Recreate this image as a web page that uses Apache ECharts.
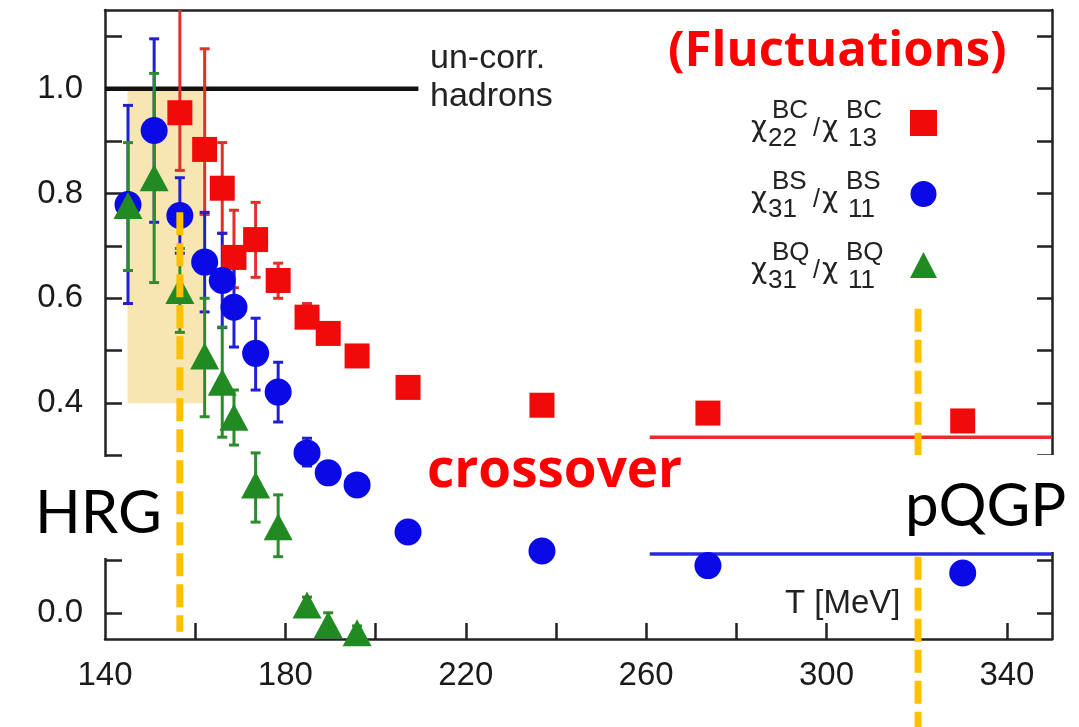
<!DOCTYPE html>
<html>
<head>
<meta charset="utf-8">
<title>Fluctuations ratios</title>
<script src="https://cdn.jsdelivr.net/npm/echarts@6/dist/echarts.min.js"></script>
<style>
  html, body { margin: 0; padding: 0; background: #fff; }
  #myChart { width: 1079px; height: 727px; }
</style>
</head>
<body>
<div id="myChart"></div>
<script>
// chi22/chi13 (BC)
var tempBC = [156.6, 162.1, 166.0, 168.6, 173.4, 178.4, 184.8, 189.5, 195.9, 207.2, 236.9, 273.7, 330.2];
var ratioBC = [0.954, 0.884, 0.81, 0.678, 0.712, 0.634, 0.564, 0.533, 0.49, 0.43, 0.396, 0.381, 0.366];
var lowBC = [0.844, 0.76, 0.724, 0.62, 0.64, 0.60, 0.545, 0.52, 0.48, 0.42, 0.39, 0.375, 0.36];
var highBC = [1.30, 1.076, 0.897, 0.768, 0.783, 0.667, 0.59, 0.55, 0.50, 0.44, 0.40, 0.387, 0.372];

// chi31/chi11 (BS)
var tempBS = [145.1, 150.9, 156.6, 162.1, 166.0, 168.6, 173.4, 178.4, 184.8, 189.5, 195.9, 207.2, 236.9, 273.7, 330.2];
var ratioBS = [0.779, 0.92, 0.758, 0.669, 0.634, 0.583, 0.495, 0.421, 0.305, 0.267, 0.244, 0.154, 0.118, 0.09, 0.076];
var lowBS = [0.59, 0.745, 0.686, 0.574, 0.544, 0.507, 0.425, 0.364, 0.28, 0.255, 0.235, 0.145, 0.11, 0.085, 0.07];
var highBS = [0.968, 1.095, 0.83, 0.764, 0.724, 0.658, 0.562, 0.478, 0.333, 0.28, 0.255, 0.162, 0.125, 0.095, 0.082];

// chi31/chi11 (BQ)
var tempBQ = [145.1, 150.9, 156.6, 162.1, 166.0, 168.6, 173.4, 178.4, 184.8, 189.5, 195.9];
var ratioBQ = [0.777, 0.83, 0.615, 0.49, 0.44, 0.373, 0.244, 0.164, 0.015, -0.023, -0.038];
var lowBQ = [0.653, 0.63, 0.535, 0.374, 0.335, 0.32, 0.173, 0.107, 0.0, -0.04, -0.05];
var highBQ = [0.897, 1.029, 0.695, 0.60, 0.545, 0.425, 0.305, 0.225, 0.03, 0.0, -0.025];

// reference lines
var uncorrX = [140, 209.5];
var uncorrY = [1.0, 1.0];
var pqgpLineX = [260.8, 350];
var pqgpBCY = [0.335, 0.335];
var pqgpBSY = [0.112, 0.112];
var hrgX = [156.6, 156.6];
var hrgY = [0.764, -0.036];
var pqgpX = [320.3, 320.3];
var pqgpY = [0.58, -0.22];
var hrgBandX = [145, 161.7];
var hrgBandY = [0.4, 1.0];

// axes
var xMin = 140, xMax = 350;
var yMin = -0.05, yMax = 1.15;
var xTickValues = [160, 180, 200, 220, 240, 260, 280, 300, 320, 340];
var xLabelValues = [140, 180, 220, 260, 300, 340];
var yTickValues = [0, 0.1, 0.2, 0.3, 0.4, 0.5, 0.6, 0.7, 0.8, 0.9, 1.0, 1.1];
var yLabelValues = [0, 0.2, 0.4, 0.6, 0.8, 1.0];

var RED = '#f00a0a', BLUE = '#0a0ae6', GREEN = '#228a22', ORANGE = '#ffc000';

function zip(xs, ys) {
    return xs.map(function (x, i) { return [x, ys[i]]; });
}

function errData(xs, lo, hi) {
    return xs.map(function (x, i) { return [x, lo[i], hi[i]]; });
}

function errRender(color) {
    return function (params, api) {
        var x = api.value(0);
        var p1 = api.coord([x, api.value(1)]);
        var p2 = api.coord([x, api.value(2)]);
        var cap = 5;
        var style = {stroke: color, lineWidth: 3};
        return {
            type: 'group',
            children: [
                {type: 'line', shape: {x1: p1[0], y1: p1[1], x2: p2[0], y2: p2[1]}, style: style},
                {type: 'line', shape: {x1: p1[0] - cap, y1: p1[1], x2: p1[0] + cap, y2: p1[1]}, style: style},
                {type: 'line', shape: {x1: p2[0] - cap, y1: p2[1], x2: p2[0] + cap, y2: p2[1]}, style: style}
            ]
        };
    };
}

function errSeries(xs, lo, hi, color) {
    return {
        type: 'custom',
        renderItem: errRender(color),
        data: errData(xs, lo, hi),
        encode: {x: 0, y: [1, 2]},
        clip: true,
        silent: true,
        z: 3
    };
}

function lineSeries(xs, ys, color, width, dash, clip) {
    return {
        type: 'line',
        data: zip(xs, ys),
        symbol: 'none',
        clip: clip,
        lineStyle: {color: color, width: width, type: dash || 'solid'},
        silent: true
    };
}

// legend label: superscripts on the first line, chi with subscripts on the second
var legendFont = 'Liberation Sans';
var rich = {
    p1: {width: 21, align: 'left', height: 12, lineHeight: 12},
    sup: {fontSize: 26, width: 37, align: 'left', height: 12, lineHeight: 12, color: '#222', fontFamily: legendFont},
    p2: {width: 37, align: 'left', height: 12, lineHeight: 12},
    e: {width: 22, align: 'left', height: 12, lineHeight: 12},
    chi: {fontSize: 28, width: 17, align: 'left', height: 24, lineHeight: 24, color: '#222', fontFamily: 'DejaVu Sans'},
    chi2: {fontSize: 28, width: 26, align: 'left', height: 24, lineHeight: 24, color: '#222', fontFamily: 'DejaVu Sans'},
    sub: {fontSize: 26, width: 45, align: 'left', verticalAlign: 'bottom', height: 4, lineHeight: 4, color: '#222', fontFamily: legendFont},
    sub2: {fontSize: 26, width: 34, align: 'left', verticalAlign: 'bottom', height: 4, lineHeight: 4, color: '#222', fontFamily: legendFont},
    sl: {fontSize: 25, width: 9, align: 'left', height: 24, lineHeight: 24, color: '#222', fontFamily: legendFont}
};

var legendLabels = {
    'BC': ['BC', 'BC', '22', '13'],
    'BS': ['BS', 'BS', '31', '11'],
    'BQ': ['BQ', 'BQ', '31', '11']
};

function legendFormatter(name) {
    var l = legendLabels[name];
    return '{p1| }{sup|' + l[0] + '}{p2| }{sup|' + l[1] + '}{e| }\n' +
        '{chi|χ}{sub|' + l[2] + '}{sl|/}{chi2|χ}{sub2|' + l[3] + '}';
}

var axisColor = '#222';
var labelFont = {fontSize: 33, color: '#1a1a1a', fontFamily: 'Liberation Sans'};

var option = {
    animation: false,
    backgroundColor: '#fff',
    grid: {left: 105, right: 27, top: 10, bottom: 88},
    legend: {
        data: [
            {name: 'BC', icon: 'rect'},
            {name: 'BS', icon: 'circle'},
            {name: 'BQ', icon: 'triangle'}
        ],
        orient: 'vertical',
        align: 'right',
        right: 142,
        top: 98,
        padding: 0,
        itemWidth: 27,
        itemHeight: 26,
        itemGap: 17,
        formatter: legendFormatter,
        textStyle: {rich: rich}
    },
    xAxis: [{
        type: 'value',
        min: xMin,
        max: xMax,
        axisLine: {onZero: false, lineStyle: {color: axisColor, width: 2.5}},
        axisTick: {inside: true, length: 16, customValues: xTickValues, lineStyle: {color: axisColor, width: 2.5}},
        axisLabel: Object.assign({customValues: xLabelValues, margin: 20}, labelFont),
        splitLine: {show: false}
    }, {
        type: 'value',
        position: 'top',
        min: xMin,
        max: xMax,
        axisLine: {onZero: false, lineStyle: {color: axisColor, width: 2.5}},
        axisTick: {show: false},
        axisLabel: {show: false},
        splitLine: {show: false}
    }],
    yAxis: [{
        type: 'value',
        min: yMin,
        max: yMax,
        axisLine: {show: true, onZero: false, lineStyle: {color: axisColor, width: 2.5}},
        axisTick: {show: true, inside: true, length: 17, customValues: yTickValues, lineStyle: {color: axisColor, width: 2.5}},
        axisLabel: Object.assign({
            customValues: yLabelValues,
            margin: 22,
            formatter: function (v) { return v.toFixed(1); }
        }, labelFont),
        splitLine: {show: false}
    }, {
        type: 'value',
        position: 'right',
        min: yMin,
        max: yMax,
        axisLine: {show: true, onZero: false, lineStyle: {color: axisColor, width: 2.5}},
        axisTick: {show: true, inside: true, length: 15, customValues: yTickValues, lineStyle: {color: axisColor, width: 2.5}},
        axisLabel: {show: false},
        splitLine: {show: false}
    }],
    series: [
        Object.assign(lineSeries(uncorrX, uncorrY, '#111', 4.5, 'solid', true), {
            z: 1,
            markArea: {
                silent: true,
                itemStyle: {color: 'rgba(240, 205, 100, 0.5)'},
                data: [[{coord: [hrgBandX[0], hrgBandY[1]]}, {coord: [hrgBandX[1], hrgBandY[0]]}]]
            }
        }),
        lineSeries(pqgpLineX, pqgpBCY, '#ec2a2a', 3.5, 'solid', true),
        lineSeries(pqgpLineX, pqgpBSY, '#2a2ae0', 3.5, 'solid', true),
        errSeries(tempBC, lowBC, highBC, '#e0302c'),
        errSeries(tempBS, lowBS, highBS, '#2020d0'),
        errSeries(tempBQ, lowBQ, highBQ, '#2e8a2e'),
        {
            name: 'BC', type: 'scatter', data: zip(tempBC, ratioBC),
            symbol: 'rect', symbolSize: 25, itemStyle: {color: RED, opacity: 1}, z: 4
        },
        {
            name: 'BS', type: 'scatter', data: zip(tempBS, ratioBS),
            symbol: 'circle', symbolSize: 27, itemStyle: {color: BLUE, opacity: 1}, z: 4
        },
        {
            name: 'BQ', type: 'scatter', data: zip(tempBQ, ratioBQ),
            symbol: 'triangle', symbolSize: [29, 27], itemStyle: {color: GREEN, opacity: 1}, z: 5
        },
        Object.assign(lineSeries(hrgX, hrgY, ORANGE, 7, [23, 8], false), {z: 6}),
        Object.assign(lineSeries(pqgpX, pqgpY, ORANGE, 7, [23, 8], false), {z: 6})
    ],
    graphic: [
        {type: 'rect', z: 100, shape: {x: 0, y: 457, width: 172, height: 101}, style: {fill: '#fff'}},
        {type: 'rect', z: 100, shape: {x: 883, y: 455, width: 196, height: 97}, style: {fill: '#fff'}},
        {type: 'text', z: 101, style: {x: 35, y: 514, text: 'HRG', fill: '#000', font: '60px Lato', verticalAlign: 'middle'}},
        {type: 'text', z: 101, style: {x: 905, y: 507, text: 'pQGP', fill: '#000', font: '60px Lato', verticalAlign: 'middle'}},
        {type: 'text', z: 101, style: {x: 427, y: 472, text: 'crossover', fill: '#ff0000', font: 'bold 53px "Open Sans"', verticalAlign: 'middle'}},
        {type: 'text', z: 101, style: {x: 668, y: 52, text: '(Fluctuations)', fill: '#ff0000', font: 'bold 49px "Open Sans"', verticalAlign: 'middle'}},
        {type: 'text', z: 101, style: {x: 430, y: 59, text: 'un-corr.', fill: '#222', font: '34px "Liberation Sans"', verticalAlign: 'middle'}},
        {type: 'text', z: 101, style: {x: 430, y: 97, text: 'hadrons', fill: '#222', font: '34px "Liberation Sans"', verticalAlign: 'middle'}},
        {type: 'text', z: 101, style: {x: 785, y: 604, text: 'T [MeV]', fill: '#222', font: '33px "Liberation Sans"', verticalAlign: 'middle'}}
    ]
};

var myChart = echarts.init(document.getElementById('myChart'));
myChart.setOption(option);
</script>
</body>
</html>
